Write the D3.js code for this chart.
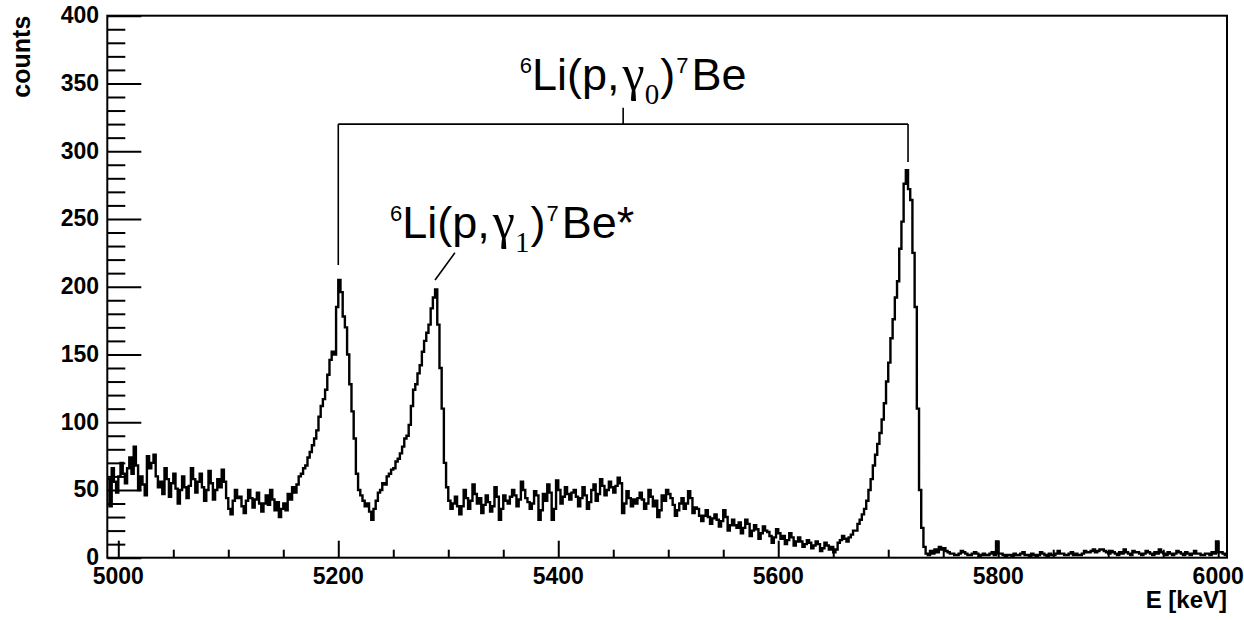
<!DOCTYPE html>
<html><head><meta charset="utf-8">
<script src="https://cdn.jsdelivr.net/npm/d3@7"></script>
<style>html,body{margin:0;background:#fff}svg{display:block}</style>
</head><body>
<svg id="c" width="1244" height="620"></svg>
<script>
"use strict";
// спектр 6Li(p,γ)7Be — гистограмма в стиле ROOT
const E_START = 4990, BIN_W = 2;   // keV, левый край первого бина и ширина бина
const counts = [
  58, 38, 66, 56, 48, 60, 70, 62, 55, 66, 74, 62, 82, 68, 50, 60, 54, 46, 75, 66,       // 4990
  70, 76, 60, 52, 56, 47, 66, 58, 45, 55, 62, 51, 40, 50, 60, 52, 44, 53, 66, 58,       // 5030
  48, 56, 62, 52, 42, 50, 64, 55, 43, 50, 58, 52, 65, 56, 44, 36, 32, 42, 50, 44,       // 5070
  45, 38, 33, 42, 50, 44, 37, 43, 48, 40, 34, 40, 46, 39, 50, 43, 35, 41, 30, 36,       // 5110
  40, 35, 47, 43, 52, 48, 54, 60, 62, 66, 68, 74, 78, 83, 88, 94, 104, 112, 117, 124,   // 5150
  135, 146, 152, 150, 185, 205, 196, 178, 170, 150, 128, 108, 88, 62, 50, 46, 42, 38, 40, 34, // 5190
  28, 36, 42, 48, 50, 55, 54, 60, 62, 65, 66, 71, 73, 77, 82, 88, 90, 98, 112, 124,     // 5230
  128, 136, 142, 152, 160, 166, 172, 184, 192, 198, 172, 140, 110, 70, 52, 42, 36, 40, 45, 38, // 5270
  32, 38, 50, 44, 36, 42, 54, 47, 40, 44, 33, 39, 46, 41, 34, 38, 52, 45, 28, 36,       // 5310
  46, 42, 40, 45, 50, 46, 38, 43, 56, 50, 44, 41, 36, 40, 49, 46, 28, 35, 47, 42,       // 5350
  54, 48, 28, 36, 57, 50, 40, 45, 52, 47, 43, 48, 50, 45, 38, 44, 52, 46, 36, 41,       // 5390
  50, 54, 42, 47, 58, 53, 46, 50, 56, 52, 48, 53, 59, 55, 33, 40, 49, 44, 38, 43,       // 5430
  40, 44, 48, 43, 36, 40, 50, 45, 38, 42, 30, 35, 46, 42, 50, 47, 44, 39, 31, 35,       // 5470
  40, 44, 36, 40, 49, 44, 33, 37, 36, 31, 27, 31, 35, 30, 25, 29, 32, 28, 23, 27,       // 5510
  35, 30, 20, 24, 28, 24, 22, 26, 18, 22, 28, 25, 16, 20, 24, 21, 14, 18, 23, 20,       // 5550
  19, 16, 11, 15, 21, 18, 14, 16, 10, 13, 18, 15, 9, 12, 15, 12, 8, 10, 13, 11,         // 5590
  7, 9, 12, 10, 5, 7, 11, 9, 6, 8, 4, 6, 11, 13, 16, 14, 12, 15, 17, 20,                // 5630
  20, 25, 28, 32, 36, 42, 50, 58, 68, 76, 84, 92, 102, 114, 130, 144, 162, 176, 192, 204, // 5670
  228, 248, 276, 286, 272, 264, 225, 185, 110, 50, 22, 8, 3, 2, 5, 3, 6, 4, 8, 6,       // 5710
  7, 5, 4, 3, 3, 2, 2, 3, 5, 4, 3, 2, 2, 3, 4, 3, 1, 2, 3, 2,                           // 5750
  2, 3, 4, 2, 12, 3, 3, 2, 1, 2, 2, 1, 3, 2, 2, 3, 4, 2, 2, 1,                          // 5790
  3, 2, 1, 2, 4, 3, 2, 1, 3, 2, 2, 3, 5, 3, 3, 2, 2, 3, 4, 2,                           // 5830
  3, 2, 2, 3, 5, 4, 4, 5, 6, 4, 5, 6, 6, 5, 4, 3, 5, 4, 3, 2,                           // 5870
  4, 3, 6, 4, 3, 2, 5, 4, 4, 3, 2, 3, 5, 4, 3, 2, 4, 3, 6, 4,                           // 5910
  3, 2, 4, 3, 2, 3, 5, 4, 3, 2, 4, 3, 2, 3, 5, 3, 3, 2, 2, 3,                           // 5950
  3, 2, 4, 3, 12, 4, 4, 3, 2                                                            // 5990
];
const xMajor = [5000, 5200, 5400, 5600, 5800, 6000];
const yMajor = [0, 50, 100, 150, 200, 250, 300, 350, 400];
const X_TITLE = "E [keV]", Y_TITLE = "counts";

const FONT = "'Liberation Sans', Arial, sans-serif", SERIF = "'Liberation Serif', 'Times New Roman', serif";
const L = 107.3, R = 1227, T = 15.7, B = 557.7;
const x = d3.scaleLinear().domain([4990, 6008]).range([L, R]);
const y = d3.scaleLinear().domain([0, 400]).range([B, T]);
const svg = d3.select("#c");

svg.append("defs").append("clipPath").attr("id", "pc")
  .append("rect").attr("x", L).attr("y", T).attr("width", R - L).attr("height", B - T);

// гистограмма ступеньками
const pts = counts.map((c, i) => [E_START + i * BIN_W, c]);
pts.push([E_START + counts.length * BIN_W, counts[counts.length - 1]]);
svg.append("path").attr("clip-path", "url(#pc)")
  .attr("d", d3.line().x(d => x(d[0])).y(d => y(d[1])).curve(d3.curveStepAfter)(pts))
  .attr("fill", "none").attr("stroke", "#000").attr("stroke-width", 2.4).attr("stroke-linejoin", "miter");

// рамка
svg.append("rect").attr("x", L).attr("y", T).attr("width", R - L).attr("height", B - T)
  .attr("fill", "none").attr("stroke", "#000").attr("stroke-width", 2);

// ось X: крупные тики каждые 200, мелкие каждые 50 (внутрь)
const gx = svg.append("g").attr("transform", `translate(0,${B})`)
  .call(d3.axisBottom(x).tickValues(d3.range(5000, 6001, 50)).tickSize(0).tickFormat(""));
gx.select(".domain").remove();
gx.selectAll(".tick line").attr("y2", d => d % 200 === 0 ? -17 : -8).attr("stroke", "#000").attr("stroke-width", 2);
svg.append("g").selectAll("text").data(xMajor).join("text")
  .attr("x", d => x(d)).attr("y", 584).attr("text-anchor", "middle")
  .attr("font-family", FONT).attr("font-weight", 700).attr("font-size", 23).text(d => d);

// ось Y: крупные тики каждые 50, мелкие каждые 10
const gy = svg.append("g").attr("transform", `translate(${L},0)`)
  .call(d3.axisLeft(y).tickValues(d3.range(0, 401, 10)).tickSize(0).tickFormat(""));
gy.select(".domain").remove();
gy.selectAll(".tick line").attr("x2", d => d % 50 === 0 ? 34 : 18).attr("stroke", "#000").attr("stroke-width", 2);
svg.append("g").selectAll("text").data(yMajor).join("text")
  .attr("x", 99).attr("y", d => y(d) + 7.5).attr("text-anchor", "end")
  .attr("font-family", FONT).attr("font-weight", 700).attr("font-size", 23).text(d => d);

svg.append("text").attr("x", R).attr("y", 608).attr("text-anchor", "end")
  .attr("font-family", FONT).attr("font-weight", 700).attr("font-size", 24).text(X_TITLE);
svg.append("text").attr("transform", `translate(30,${T}) rotate(-90)`).attr("text-anchor", "end")
  .attr("font-family", FONT).attr("font-weight", 700).attr("font-size", 25).text(Y_TITLE);

// скобка над двумя пиками γ0 и выноска к γ1
const ln = (e1, c1, e2, c2) => svg.append("line")
  .attr("x1", x(e1)).attr("y1", y(c1)).attr("x2", x(e2)).attr("y2", y(c2))
  .attr("stroke", "#000").attr("stroke-width", 1.6);
ln(5200, 216, 5200, 320); ln(5200, 320, 5718, 320); ln(5718, 320, 5718, 292);
ln(5459, 320, 5459, 332); ln(5306, 225, 5288, 205);

function label(e, c, sub, tail){
  const t = svg.append("text").attr("x", x(e)).attr("y", y(c))
    .attr("font-family", FONT).attr("font-size", 45).attr("fill", "#000");
  t.append("tspan").attr("font-size", 22).attr("dy", -17).text("6");
  t.append("tspan").attr("dy", 17).text("Li(p,");
  t.append("tspan").attr("font-family", SERIF).attr("font-size", 50).attr("dx", 3).text("γ");
  t.append("tspan").attr("font-family", SERIF).attr("font-size", 29).attr("dy", 14).text(sub);
  t.append("tspan").attr("dy", -14).attr("dx", 1).text(")");
  t.append("tspan").attr("font-size", 22).attr("dy", -17).attr("dx", 1).text("7");
  t.append("tspan").attr("dy", 17).attr("dx", 3).text(tail);
}
label(5365, 345, "0", "Be");
label(5247, 236, "1", "Be*");
</script>
</body></html>
